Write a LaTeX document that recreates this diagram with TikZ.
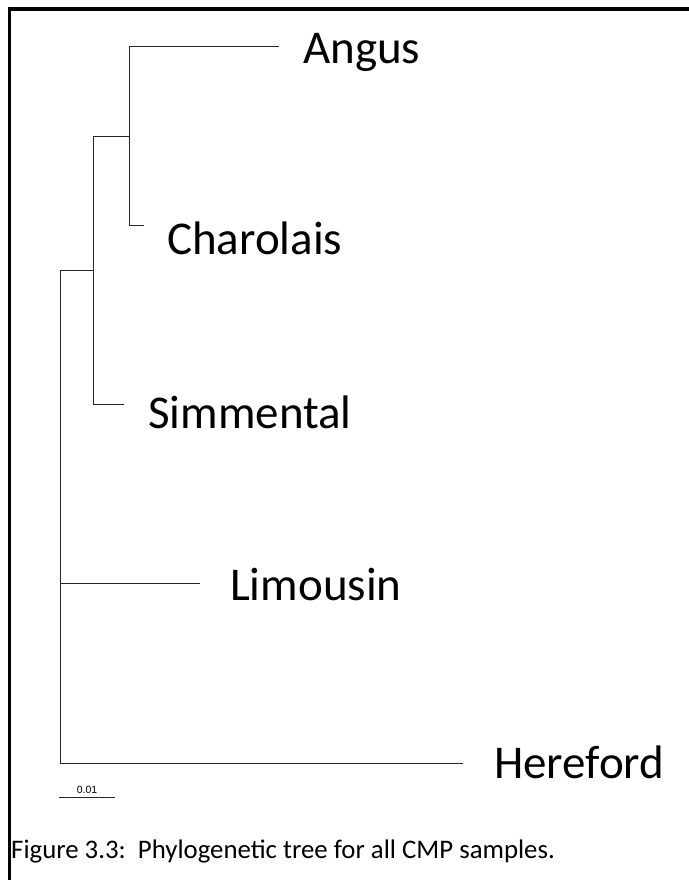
\documentclass[tikz,border=0pt]{standalone}
\usepackage{fontspec}
\setmainfont{Carlito}
\newfontfamily\scalefont{Liberation Sans}
\begin{document}
\begin{tikzpicture}[x=1pt,y=-1pt,
  branch/.style={draw=black!85, line width=0.9pt},
  leaf/.style={anchor=base west, inner sep=0pt, font=\fontsize{47}{56}\selectfont},
  frame/.style={draw=black, line width=3.5pt}]
\useasboundingbox (0,0) rectangle (688,880);
% frame (left and top only)
\draw[frame] (9.5,882) -- (9.5,9) -- (690,9);
% internal nodes
\coordinate (n1a) at (129,46);
\coordinate (n1b) at (129,225);
\coordinate (n1) at (129,136);
\coordinate (n2a) at (93,136);
\coordinate (n2b) at (93,404);
\coordinate (n2) at (93,270);
\coordinate (r2) at (60,270);
\coordinate (rL) at (60,583);
\coordinate (rH) at (60,763);
% tips
\coordinate (tA) at (279,46);
\coordinate (tC) at (144,225);
\coordinate (tS) at (124,404);
\coordinate (tL) at (200,583);
\coordinate (tH) at (463,763);
% labels
\node[leaf] (Angus) at (303,64) {Angus};
\node[leaf] (Charolais) at (167,254) {Charolais};
\node[leaf] (Simmental) at (148,428) {Simmental};
\node[leaf] (Limousin) at (230,600) {Limousin};
\node[leaf] (Hereford) at (494,778) {Hereford};
% branches
\draw[branch] (tA) -- (n1a) -- (n1b) -- (tC);
\draw[branch] (n1) -- (n2a) -- (n2b) -- (tS);
\draw[branch] (n2) -- (r2) -- (rH) -- (tH);
\draw[branch] (rL) -- (tL);
% scale bar
\coordinate (sb1) at (59,797);
\coordinate (sb2) at (115,797);
\draw[branch] (sb1) -- (sb2);
\node[anchor=base, inner sep=0pt, font=\scalefont\fontsize{10.5}{12}\selectfont] (sbl) at (87,793) {0.01};
% caption
\node[anchor=base west, inner sep=0pt, font=\fontsize{26.8}{32}\selectfont] (cap) at (11,858) {Figure 3.3:\ \ Phylogenetic tree for all CMP samples.};
\end{tikzpicture}
\end{document}
